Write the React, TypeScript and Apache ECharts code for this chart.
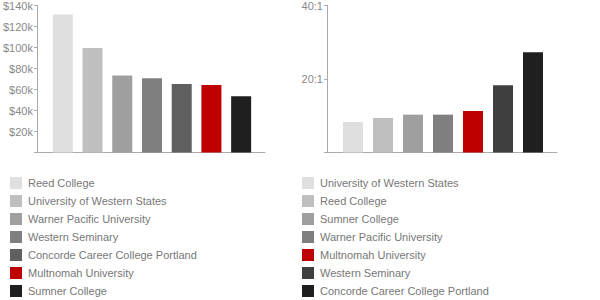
import React, { useEffect, useRef } from "react";
import * as echarts from "echarts";

const salaryColleges = [
  "Reed College",
  "University of Western States",
  "Warner Pacific University",
  "Western Seminary",
  "Concorde Career College Portland",
  "Multnomah University",
  "Sumner College",
];
const salaryValues = [131500, 99500, 73300, 70700, 65300, 64400, 53600];
const salaryColors = ["#dfdfdf", "#bfbfbf", "#9f9f9f", "#7f7f7f", "#5f5f5f", "#bf0000", "#1f1f1f"];

const ratioColleges = [
  "University of Western States",
  "Reed College",
  "Sumner College",
  "Warner Pacific University",
  "Multnomah University",
  "Western Seminary",
  "Concorde Career College Portland",
];
const ratioValues = [8.3, 9.4, 10.3, 10.3, 11.3, 18.3, 27.3];
const ratioColors = ["#dfdfdf", "#bfbfbf", "#9f9f9f", "#7f7f7f", "#bf0000", "#3f3f3f", "#1f1f1f"];

const salaryTicks = { min: 0, max: 140000, interval: 20000 };
const ratioTicks = { min: 0, max: 40, interval: 20 };

const FONT = "'Liberation Sans', Arial, Helvetica, sans-serif";
const AXIS_COLOR = "#aaaaaa";
const LABEL_COLOR = "#888888";
const LEGEND_COLOR = "#777777";

export default function App() {
  const ref = useRef<HTMLDivElement>(null);

  useEffect(() => {
    document.body.style.margin = "0";
    if (!ref.current) return;
    const chart = echarts.init(ref.current, null, { renderer: "svg" });

    const makeSeries = (names: string[], values: number[], colors: string[], xi: number, yi: number) =>
      names.map((name, i) => ({
        type: "bar" as const,
        name,
        xAxisIndex: xi,
        yAxisIndex: yi,
        stack: "s" + xi,
        barWidth: 20,
        itemStyle: { color: colors[i] },
        data: values.map((v, j) => (j === i ? v : "-")),
      }));

    const valueYAxis = (gridIndex: number, ticks: any, fmt: (v: number) => string) => ({
      type: "value",
      gridIndex,
      min: ticks.min,
      max: ticks.max,
      interval: ticks.interval,
      offset: 11,
      axisLine: { show: true, lineStyle: { color: AXIS_COLOR } },
      axisTick: { show: true, length: 3, lineStyle: { color: AXIS_COLOR } },
      splitLine: { show: false },
      axisLabel: {
        color: LABEL_COLOR,
        fontSize: 11,
        fontFamily: FONT,
        margin: 4,
        formatter: (v: number) => (v === 0 ? "" : fmt(v)),
      },
    });

    const lineXAxis = (gridIndex: number) => ({
      type: "value",
      gridIndex,
      position: "bottom",
      axisLine: { show: true, onZero: false, lineStyle: { color: AXIS_COLOR } },
      axisTick: { show: false },
      axisLabel: { show: false },
      splitLine: { show: false },
    });

    const hiddenY = (gridIndex: number) => ({
      type: "value",
      gridIndex,
      show: false,
    });

    const legend = (left: number, names: string[], colors: string[]) => ({
      orient: "vertical",
      left,
      top: 177,
      padding: 0,
      itemWidth: 12,
      itemHeight: 12,
      itemGap: 6,
      icon: "rect",
      selectedMode: false,
      textStyle: { color: LEGEND_COLOR, fontSize: 11, fontFamily: FONT, padding: [0, 0, 0, 1] },
      data: names.map((name, i) => ({ name, itemStyle: { color: colors[i] } })),
    });

    chart.setOption({
      animation: false,
      textStyle: { fontFamily: FONT },
      grid: [
        { left: 46, top: 5, width: 210, height: 147.5 },
        { left: 35, top: 5, width: 230, height: 147.5 },
        { left: 338, top: 5, width: 210, height: 147.5 },
        { left: 327, top: 5, width: 230, height: 147.5 },
      ],
      xAxis: [
        { type: "category", gridIndex: 0, data: salaryColleges, show: false },
        lineXAxis(1),
        { type: "category", gridIndex: 2, data: ratioColleges, show: false },
        lineXAxis(3),
      ],
      yAxis: [
        valueYAxis(0, salaryTicks, (v) => "$" + v / 1000 + "k"),
        hiddenY(1),
        valueYAxis(2, ratioTicks, (v) => v + ":1"),
        hiddenY(3),
      ],
      legend: [legend(10, salaryColleges, salaryColors), legend(302, ratioColleges, ratioColors)],
      series: [
        ...makeSeries(salaryColleges, salaryValues, salaryColors, 0, 0),
        ...makeSeries(ratioColleges, ratioValues, ratioColors, 2, 2),
      ],
    });

    return () => chart.dispose();
  }, []);

  return <div ref={ref} style={{ width: 600, height: 300 }} />;
}
